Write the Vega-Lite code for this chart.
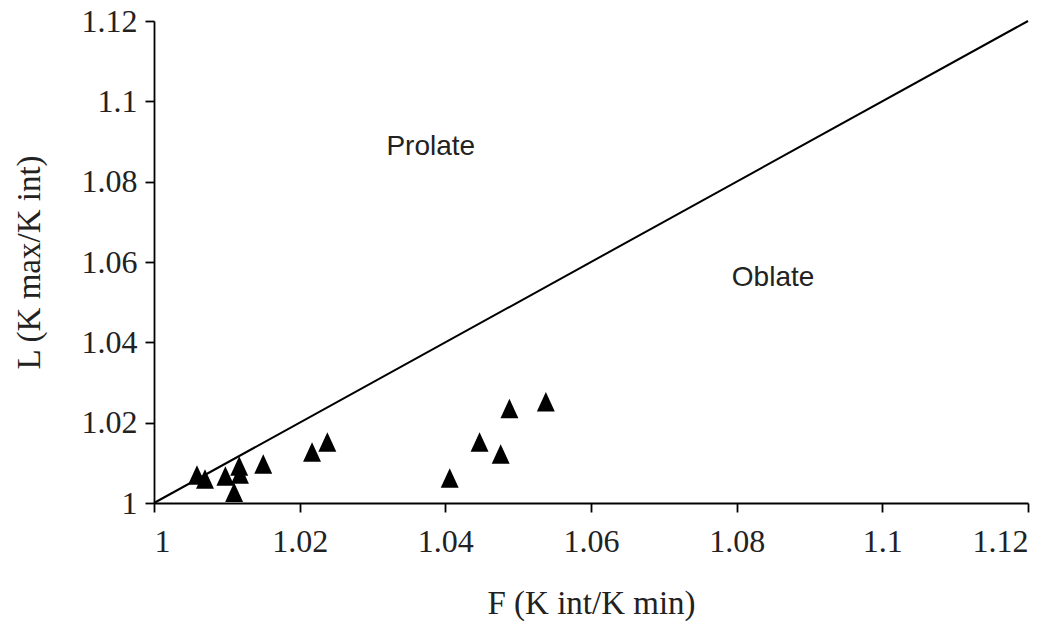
{
  "$schema": "https://vega.github.io/schema/vega-lite/v6.json",
  "width": 874,
  "height": 482,
  "autosize": "none",
  "padding": {"left": 154, "top": 21, "right": 30, "bottom": 134},
  "background": "white",
  "config": {
    "view": {"stroke": null},
    "axis": {
      "grid": false,
      "domainColor": "black",
      "domainWidth": 1.8,
      "tickColor": "black",
      "tickWidth": 1.8,
      "tickSize": 9,
      "labelFont": "Liberation Serif",
      "labelFontSize": 32,
      "labelColor": "#222",
      "titleFont": "Liberation Serif",
      "titleFontSize": 33,
      "titleFontWeight": "normal",
      "titleColor": "#222"
    }
  },
  "datasets": {
    "boundary": [
      {"F": 1.0, "L": 1.0},
      {"F": 1.12, "L": 1.12}
    ],
    "samples": [
      {"F": 1.0059, "L": 1.0070},
      {"F": 1.0070, "L": 1.0060},
      {"F": 1.0098, "L": 1.0067},
      {"F": 1.0117, "L": 1.0092},
      {"F": 1.0118, "L": 1.0072},
      {"F": 1.0110, "L": 1.0027},
      {"F": 1.0150, "L": 1.0097},
      {"F": 1.0217, "L": 1.0127},
      {"F": 1.0238, "L": 1.0152},
      {"F": 1.0406, "L": 1.0062},
      {"F": 1.0447, "L": 1.0152},
      {"F": 1.0476, "L": 1.0122},
      {"F": 1.0488, "L": 1.0235},
      {"F": 1.0538, "L": 1.0252}
    ],
    "regions": [
      {"F": 1.038, "L": 1.0886, "name": "Prolate"},
      {"F": 1.085, "L": 1.0561, "name": "Oblate"}
    ]
  },
  "encoding": {
    "x": {
      "field": "F",
      "type": "quantitative",
      "scale": {"domain": [1, 1.12], "nice": false, "zero": false},
      "axis": {
        "title": "F (K int/K min)",
        "values": [1, 1.02, 1.04, 1.06, 1.08, 1.1, 1.12],
        "format": "~g",
        "labelPadding": 14,
        "titlePadding": 30
      }
    },
    "y": {
      "field": "L",
      "type": "quantitative",
      "scale": {"domain": [1, 1.12], "nice": false, "zero": false},
      "axis": {
        "title": "L (K max/K int)",
        "values": [1, 1.02, 1.04, 1.06, 1.08, 1.1, 1.12],
        "format": "~g",
        "labelPadding": 8,
        "titlePadding": 35
      }
    }
  },
  "layer": [
    {
      "data": {"name": "boundary"},
      "mark": {"type": "line", "color": "black", "strokeWidth": 2}
    },
    {
      "data": {"name": "samples"},
      "mark": {
        "type": "point",
        "shape": "M-0.92,1L0.92,1L0,-1Z",
        "size": 380,
        "filled": true,
        "color": "black",
        "opacity": 1
      }
    },
    {
      "data": {"name": "regions"},
      "mark": {
        "type": "text",
        "font": "Liberation Sans Narrow, Arial Narrow, Liberation Sans",
        "fontSize": 28,
        "color": "#222",
        "align": "center",
        "baseline": "middle"
      },
      "encoding": {"text": {"field": "name"}}
    }
  ]
}
